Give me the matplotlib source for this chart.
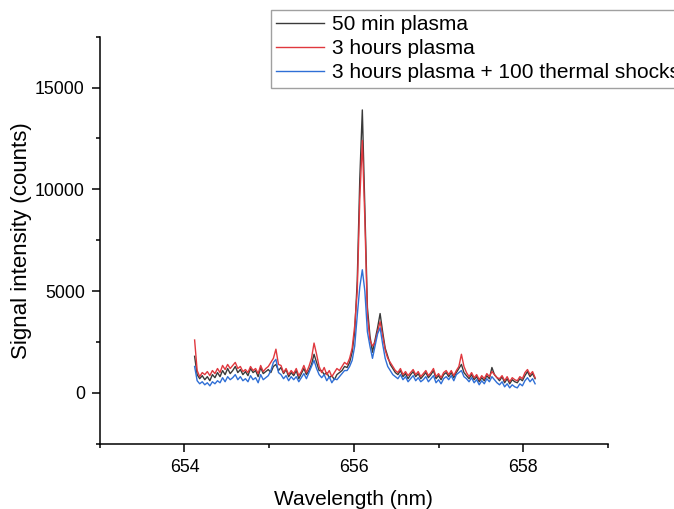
import numpy as np
import matplotlib
matplotlib.use("Agg")
import matplotlib.pyplot as plt
from matplotlib.ticker import MultipleLocator

plt.rcParams['font.family'] = ['Liberation Sans', 'DejaVu Sans']

# wavelength grid (nm), 0.03 nm step from 654.12 to 658.14
wavelength = np.round(654.12 + 0.03 * np.arange(135), 2)

labels = ["50 min plasma", "3 hours plasma", "3 hours plasma + 100 thermal shocks"]

# signal intensity (counts)
plasma_50min = [
    1800, 900, 700, 850, 650, 800, 600, 900, 750, 1000,
    800, 1100, 900, 1200, 950, 1100, 1300, 1000, 1150, 900,
    1050, 850, 1200, 1000, 1100, 800, 1250, 950, 1050, 1150,
    1000, 1300, 1400, 1100, 1250, 950, 1150, 800, 1000, 850,
    1100, 700, 950, 1200, 900, 1100, 1400, 1900, 1500, 1100,
    1100, 900, 1000, 750, 850, 650, 900, 1000, 1100, 1300,
    1250, 1500, 2000, 3000, 5500, 10500, 13900, 9000, 4200, 2800,
    2000, 2600, 3200, 3900, 3000, 2200, 1800, 1400, 1200, 1000,
    900, 1100, 800, 950, 700, 900, 1050, 800, 950, 700,
    850, 1000, 750, 900, 1100, 700, 850, 650, 900, 1000,
    800, 1000, 750, 1000, 1200, 1400, 1000, 850, 700, 900,
    650, 800, 550, 750, 600, 850, 700, 1250, 900, 750,
    600, 800, 500, 700, 450, 650, 550, 500, 700, 600,
    850, 1050, 800, 950, 700,
]

plasma_3h = [
    2600, 1100, 800, 1000, 900, 1050, 850, 1100, 950, 1200,
    1000, 1350, 1150, 1400, 1200, 1350, 1500, 1200, 1300, 1050,
    1150, 1000, 1300, 1100, 1200, 950, 1350, 1050, 1200, 1300,
    1500, 1700, 2150, 1400, 1350, 1000, 1200, 900, 1100, 950,
    1200, 850, 1050, 1350, 1000, 1300, 1700, 2450, 1900, 1300,
    1000, 1250, 900, 1100, 800, 1000, 1200, 1100, 1300, 1500,
    1400, 1700, 2200, 3300, 5000, 9500, 12400, 8500, 3800, 2600,
    2300, 2500, 3000, 3500, 2800, 2100, 1700, 1500, 1300, 1100,
    1000, 1200, 900, 1050, 850, 1000, 1150, 900, 1050, 800,
    950, 1100, 850, 1000, 1200, 800, 950, 750, 1000, 1100,
    900, 1100, 850, 1100, 1300, 1900, 1300, 1000, 800, 1000,
    750, 900, 650, 850, 700, 950, 800, 1050, 900, 750,
    700, 850, 600, 800, 550, 750, 650, 600, 800, 700,
    1000, 1150, 900, 1050, 750,
]

plasma_3h_shocks = [
    1300, 600, 450, 550, 400, 500, 350, 550, 450, 600,
    500, 750, 550, 800, 650, 750, 900, 650, 800, 600,
    700, 550, 850, 650, 750, 500, 900, 650, 750, 850,
    1100, 1500, 1650, 1000, 900, 700, 850, 600, 800, 650,
    800, 550, 750, 950, 700, 1000, 1300, 1600, 1200, 900,
    750, 900, 600, 800, 500, 700, 650, 800, 950, 1100,
    1100, 1300, 1600, 2300, 3800, 5200, 6050, 5000, 3000, 2300,
    1700, 2300, 2900, 3200, 2400, 1700, 1300, 1100, 900, 800,
    700, 900, 650, 800, 550, 700, 850, 600, 750, 550,
    650, 800, 550, 700, 850, 500, 650, 450, 700, 800,
    650, 850, 600, 900, 1000, 1100, 800, 700, 550, 750,
    500, 650, 400, 600, 450, 700, 550, 800, 650, 500,
    400, 550, 300, 450, 250, 400, 300, 250, 450, 350,
    600, 750, 550, 700, 450,
]

colors = ["#3a3a3a", "#e0383e", "#2f6fd6"]

fig = plt.figure(figsize=(6.74, 5.09), dpi=100)
ax = fig.add_axes([0.148, 0.128, 0.754, 0.800])

for y, c, lab in zip([plasma_50min, plasma_3h, plasma_3h_shocks], colors, labels):
    ax.plot(wavelength, y, color=c, lw=1.0, label=lab)

ax.set_xlim(653, 659)
ax.set_ylim(-2500, 17500)
ax.xaxis.set_major_locator(MultipleLocator(2))
ax.xaxis.set_minor_locator(MultipleLocator(1))
ax.yaxis.set_major_locator(MultipleLocator(5000))
ax.yaxis.set_minor_locator(MultipleLocator(2500))
ax.spines['top'].set_visible(False)
ax.spines['right'].set_visible(False)
for s in ['left', 'bottom']:
    ax.spines[s].set_linewidth(1.1)
ax.tick_params(which='major', length=5.8, width=1.1, labelsize=12.8, pad=5)
ax.tick_params(which='minor', length=3, width=1.1)

ax.set_xlabel("Wavelength (nm)", fontsize=15, labelpad=10)
ax.set_ylabel("Signal intensity (counts)", fontsize=16, labelpad=2)

leg = fig.legend(loc='upper left', bbox_to_anchor=(0.402, 0.981), fontsize=15,
                 frameon=True, fancybox=False, edgecolor='#888888',
                 handlelength=2.3, handletextpad=0.38, labelspacing=0.25,
                 borderpad=0.25, borderaxespad=0)
leg.get_frame().set_linewidth(1.0)

fig.savefig("out.png", dpi=100)
